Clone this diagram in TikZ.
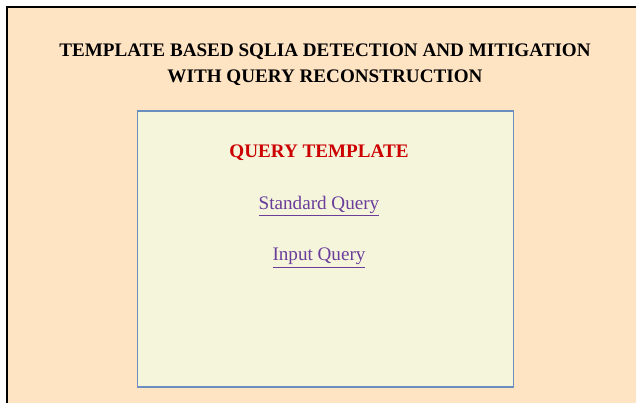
\documentclass[tikz,border=0pt]{standalone}
\usepackage{fontspec}
\setmainfont{Liberation Serif}
\definecolor{peach}{HTML}{FFE4C4}
\definecolor{panel}{HTML}{F5F5DC}
\definecolor{panelline}{HTML}{6C8EBF}
\definecolor{qred}{HTML}{CC0000}
\definecolor{qlink}{HTML}{6A3D9A}
\tikzset{
  titletext/.style={font=\fontsize{14.35}{19.5}\selectfont\bfseries, align=center, text=black},
  headtext/.style={font=\fontsize{14.35}{18}\selectfont\bfseries, text=qred},
  linktext/.style={font=\fontsize{14.35}{18}\selectfont, text=qlink},
}
\begin{document}
\begin{tikzpicture}[x=0.75pt,y=-0.75pt]
\useasboundingbox (0,0) rectangle (636,403);
\fill[white] (0,0) rectangle (636,403);
\fill[peach] (7,7) rectangle (636,403);
\draw[black, line width=2.2pt] (7,403) -- (7,7) -- (636,7);
\node[titletext] (title) at (325,64.5) {TEMPLATE BASED SQLIA DETECTION AND MITIGATION\\WITH QUERY RECONSTRUCTION};
\node[draw=panelline, fill=panel, line width=0.9pt, minimum width=376*0.75pt, minimum height=276*0.75pt, inner sep=0pt] (panel) at (325.5,249) {};
\node[headtext] (head) at (319,153) {QUERY TEMPLATE};
\node[linktext] (std) at (319,206) {\underline{Standard Query}};
\node[linktext] (inp) at (319,258) {\underline{Input Query}};
\end{tikzpicture}
\end{document}
